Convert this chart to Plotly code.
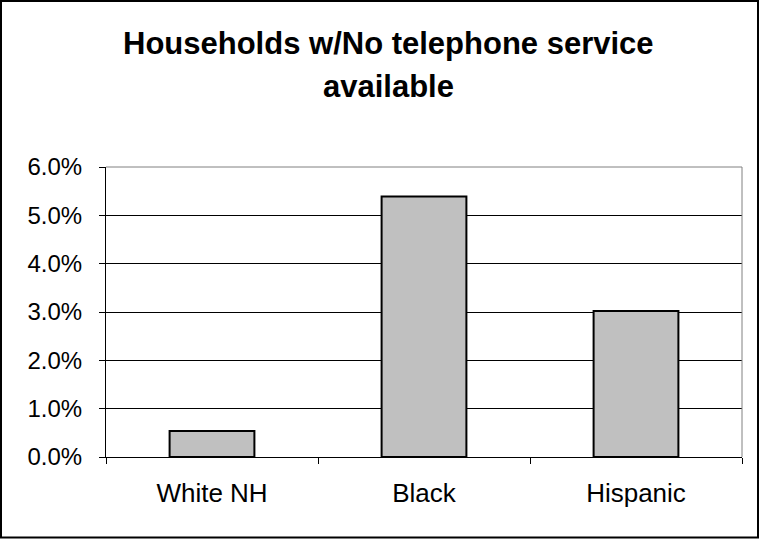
import plotly.graph_objects as go

categories = ["White NH", "Black", "Hispanic"]
values = [0.0054, 0.0539, 0.0302]
y_ticks = [0, 0.01, 0.02, 0.03, 0.04, 0.05, 0.06]
title_lines = ["Households w/No telephone service", "available"]

W, H = 760, 539
L, R, T, B = 106, 18, 167, 82
pw, ph = W - L - R, H - T - B

def px_x(p):
    return (p - L) / pw

def px_y(p):
    return (H - B - p) / ph

fig = go.Figure()
fig.add_trace(go.Bar(
    x=categories, y=values,
    marker=dict(color="#C0C0C0", line=dict(color="#000000", width=2)),
    width=0.4,
))

title_font = dict(size=31, family="Liberation Sans, Arial, sans-serif", color="black")
annotations = [
    dict(text="<b>%s</b>" % title_lines[0], xref="paper", yref="paper",
         x=px_x(W / 2 + 8), y=px_y(44),
         xanchor="center", yanchor="middle", showarrow=False, font=title_font),
    dict(text="<b>%s</b>" % title_lines[1], xref="paper", yref="paper",
         x=px_x(W / 2 + 8), y=px_y(86),
         xanchor="center", yanchor="middle", showarrow=False, font=title_font),
]

fig.update_layout(
    width=W, height=H,
    margin=dict(l=L, r=R, t=T, b=B),
    paper_bgcolor="white", plot_bgcolor="white",
    showlegend=False,
    font=dict(family="Liberation Sans, Arial, sans-serif", color="black"),
    annotations=annotations,
    xaxis=dict(
        showline=True, linecolor="black", linewidth=1,
        ticks="outside", ticklen=6, tickcolor="black", tickson="boundaries",
        tickfont=dict(size=26),
        showgrid=False, ticklabelstandoff=13,
    ),
    yaxis=dict(
        range=[0, 0.06], tickvals=y_ticks, tickformat=".1%",
        showline=True, linecolor="black", linewidth=1,
        ticks="outside", ticklen=6, tickcolor="black",
        showgrid=True, gridcolor="black", gridwidth=1,
        tickfont=dict(size=24), ticklabelstandoff=12,
        zeroline=False,
    ),
    shapes=[
        dict(type="line", xref="paper", yref="paper", x0=0, x1=1, y0=1, y1=1,
             line=dict(color="#808080", width=1)),
        dict(type="line", xref="paper", yref="paper", x0=1, x1=1, y0=0, y1=1,
             line=dict(color="#808080", width=1)),
        dict(type="rect", xref="paper", yref="paper",
             x0=px_x(1), x1=px_x(758), y0=px_y(537.5), y1=px_y(1),
             line=dict(color="black", width=2), fillcolor="rgba(0,0,0,0)"),
    ],
)

fig.write_html("out.html", config={"displayModeBar": False},
               post_script="document.body.style.margin='0';")
